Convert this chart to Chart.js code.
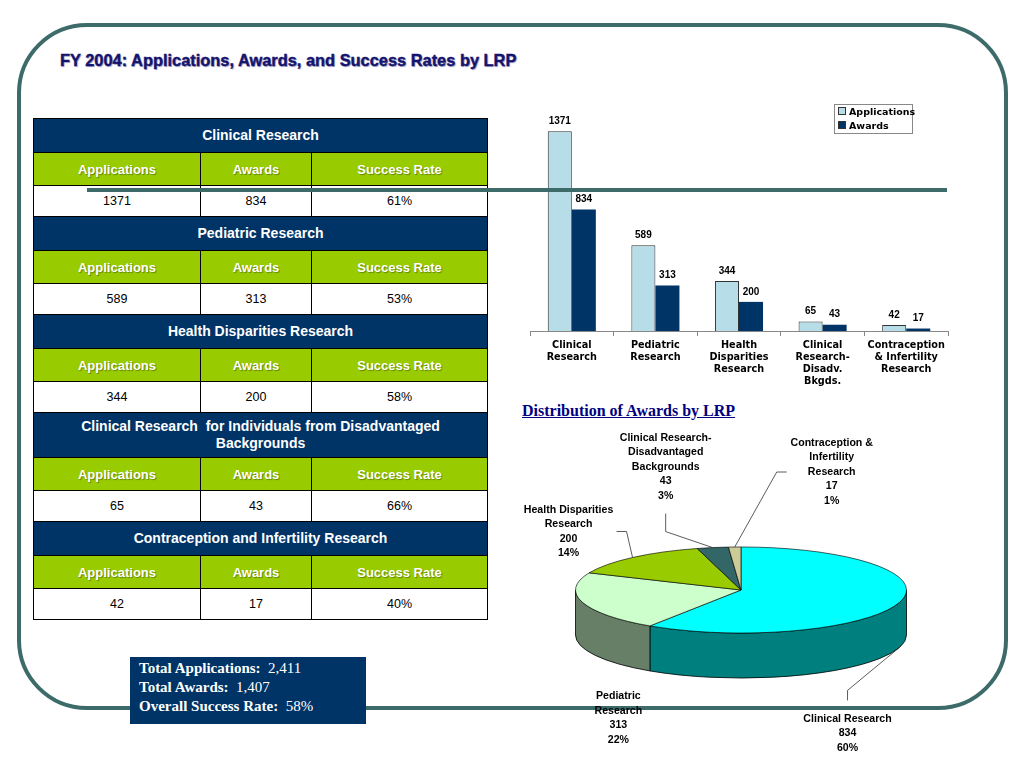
<!DOCTYPE html>
<html lang="en">
<head>
<meta charset="UTF-8">
<title>FY 2004: Applications, Awards, and Success Rates by LRP</title>
<script src="https://cdn.jsdelivr.net/npm/chart.js"></script>
<style>
    body { margin: 0; width: 1024px; height: 768px; position: relative; background: #fff; overflow: hidden;
           font-family: "Liberation Sans", Arial, sans-serif; }
    .frame { position: absolute; left: 17px; top: 23px; width: 991px; height: 687px; box-sizing: border-box;
             border: 4px solid #3d6b69; border-radius: 70px; }
    .rule { position: absolute; left: 87px; top: 188px; width: 860px; height: 4px; background: #3d6b69; z-index: 10; }
    .title { position: absolute; left: 60px; top: 51px; font-size: 16.4px; font-weight: bold; color: #14146e;
             -webkit-text-stroke: 0.4px #14146e; text-shadow: 1px 1px 1px #a0a0c0; white-space: nowrap; }
    table.lrp { position: absolute; left: 33px; top: 118px; width: 454px; border-collapse: collapse; table-layout: fixed; }
    table.lrp td { border: 1px solid #000; text-align: center; padding: 0; }
    tr.head td { background: #003366; color: #fff; font-weight: bold; font-size: 14px; height: 33px; line-height: 17px; }
    tr.head.tall td { height: 44px; padding: 0 36px; }
    tr.sub td { background: #99cc00; color: #fff; font-weight: bold; font-size: 13px; height: 32px;
                text-shadow: 1px 1px 1px rgba(0,0,0,0.35); }
    tr.val td { background: #fff; color: #000; font-size: 12.5px; height: 30px; }
    .bars { position: absolute; left: 510px; top: 90px; width: 450px; height: 305px; }
    .legend { position: absolute; left: 834px; top: 104px; width: 77px; height: 28px; border: 1px solid #888;
              background: #fff; font-size: 10px; font-weight: bold; z-index: 5; font-family: "DejaVu Sans", sans-serif; }
    .legend div { height: 14px; line-height: 14px; padding-left: 3px; white-space: nowrap; font-size: 9.5px; }
    .legend span { display: inline-block; width: 6px; height: 6px; margin-right: 3px; border: 1px solid #333; vertical-align: 0; }
    .pietitle { position: absolute; left: 522px; top: 402px; font-family: "Liberation Serif", "Times New Roman", serif;
                font-size: 16px; font-weight: bold; color: #000080; text-decoration: underline; white-space: nowrap; }
    .pie { position: absolute; left: 500px; top: 400px; width: 500px; height: 368px; }
    .totals { position: absolute; left: 130px; top: 657px; width: 236px; height: 67px; background: #003366; color: #fff;
              font-family: "Liberation Serif", "Times New Roman", serif; font-size: 15px; box-sizing: border-box;
              padding: 2px 0 0 9px; line-height: 19px; z-index: 12; }
    .totals b { font-weight: bold; }
</style>
</head>
<body>

<div class="frame"></div>
<div class="title">FY 2004: Applications, Awards, and Success Rates by LRP</div>

<table class="lrp" id="lrpTable">
    <colgroup><col style="width:167px"><col style="width:111px"><col style="width:176px"></colgroup>
    <tbody></tbody>
</table>

<div class="bars"><canvas id="barChart"></canvas></div>
<div class="legend">
    <div><span style="background:#b7dde8"></span>Applications</div>
    <div><span style="background:#003366"></span>Awards</div>
</div>

<div class="pietitle">Distribution of Awards by LRP</div>
<div class="pie"><canvas id="pieChart"></canvas></div>

<div class="rule"></div>

<div class="totals">
    <div><b>Total Applications:</b>&nbsp; 2,411</div>
    <div><b>Total Awards:</b>&nbsp; 1,407</div>
    <div><b>Overall Success Rate:</b>&nbsp; 58%</div>
</div>

<script>
    // Daten
    const programNames = ['Clinical Research', 'Pediatric Research', 'Health Disparities Research',
        'Clinical Research&nbsp; for Individuals from Disadvantaged Backgrounds', 'Contraception and Infertility Research'];
    const barLabels = [['Clinical', 'Research'], ['Pediatric', 'Research'], ['Health', 'Disparities', 'Research'],
        ['Clinical', 'Research-', 'Disadv.', 'Bkgds.'], ['Contraception', '& Infertility', 'Research']];
    const pieNames = [['Clinical Research'], ['Pediatric', 'Research'], ['Health Disparities', 'Research'],
        ['Clinical Research-', 'Disadvantaged', 'Backgrounds'], ['Contraception &', 'Infertility', 'Research']];
    const applications = [1371, 589, 344, 65, 42];
    const awards = [834, 313, 200, 43, 17];
    const successRates = ['61%', '53%', '58%', '66%', '40%'];
    const awardShares = ['60%', '22%', '14%', '3%', '1%'];

    const pieColors = ['#00ffff', '#ccffcc', '#99cc00', '#336666', '#cccc99'];

    // Tabelle links aufbauen
    const tbody = document.querySelector('#lrpTable tbody');
    programNames.forEach((name, i) => {
        const tall = name.length > 45 ? ' tall' : '';
        tbody.insertAdjacentHTML('beforeend',
            '<tr class="head' + tall + '"><td colspan="3">' + name + '</td></tr>' +
            '<tr class="sub"><td>Applications</td><td>Awards</td><td>Success Rate</td></tr>' +
            '<tr class="val"><td>' + applications[i] + '</td><td>' + awards[i] + '</td><td>' + successRates[i] + '</td></tr>');
    });

    // Werte ueber den Balken
    const barValues = {
        id: 'barValues',
        afterDatasetsDraw(chart) {
            const ctx = chart.ctx;
            ctx.save();
            ctx.font = 'bold 10px "Liberation Sans", Arial, sans-serif';
            ctx.fillStyle = '#000';
            ctx.textAlign = 'center';
            ctx.textBaseline = 'bottom';
            chart.data.datasets.forEach((ds, di) => {
                chart.getDatasetMeta(di).data.forEach((bar, i) => {
                    ctx.fillText(ds.data[i], bar.x, bar.y - 5);
                });
            });
            ctx.restore();
        }
    };

    new Chart(document.getElementById('barChart'), {
        type: 'bar',
        data: {
            labels: barLabels,
            datasets: [{
                label: 'Applications',
                data: applications,
                backgroundColor: '#b7dde8',
                borderColor: '#333',
                borderWidth: 1,
                barPercentage: 1,
                categoryPercentage: 0.575
            }, {
                label: 'Awards',
                data: awards,
                backgroundColor: '#003366',
                borderColor: '#003366',
                borderWidth: 0,
                barPercentage: 1,
                categoryPercentage: 0.575
            }]
        },
        options: {
            responsive: true,
            maintainAspectRatio: false,
            animation: false,
            events: [],
            layout: { padding: { left: 20, right: 12, top: 8, bottom: 0 } },
            plugins: { legend: { display: false }, tooltip: { enabled: false } },
            scales: {
                y: { display: false, min: 0, max: 1600 },
                x: {
                    grid: { drawOnChartArea: false, tickLength: 5, color: '#888' },
                    border: { display: true, color: '#888' },
                    ticks: {
                        color: '#000',
                        padding: 3,
                        maxRotation: 0,
                        autoSkip: false,
                        font: { family: '"DejaVu Sans", sans-serif', size: 9.7, weight: 'bold', lineHeight: 1.24 }
                    },
                    afterFit(scale) { scale.height = 64; }
                }
            }
        },
        plugins: [barValues]
    });

    // Torte mit 3D-Effekt: Ellipse + Seitenwand
    const TILT = 0.26;
    const DEPTH = 45;

    function darker(hex) {
        const n = parseInt(hex.slice(1), 16);
        const r = (n >> 16) >> 1, g = ((n >> 8) & 255) >> 1, b = (n & 255) >> 1;
        return 'rgb(' + r + ',' + g + ',' + b + ')';
    }

    // Lage der Beschriftungen relativ zum Ankerpunkt am Rand
    const labelLayout = [
        { elbow: [-52, 43], end: [-52, 53], text: [-52, 86] },
        { elbow: null, end: null, text: [36, 71] },
        { elbow: [-6, -26], end: [-16, -26], text: [-64, -26] },
        { elbow: [-47, -16], end: [-47, -34], text: [-47, -81] },
        { elbow: [42, -75], end: [52, -75], text: [97, -75] }
    ];

    const pie3d = {
        id: 'pie3d',
        beforeDatasetsDraw(chart) {
            const ctx = chart.ctx;
            const arcs = chart.getDatasetMeta(0).data;
            const cx = arcs[0].x, cy = arcs[0].y, r = arcs[0].outerRadius;
            ctx.save();
            ctx.lineWidth = 0.8;
            ctx.strokeStyle = '#000';
            arcs.forEach((arc, i) => {
                const a1 = Math.max(arc.startAngle, 0);
                const a2 = Math.min(arc.endAngle, Math.PI);
                if (a1 >= a2) return;
                ctx.beginPath();
                ctx.ellipse(cx, cy, r, r * TILT, 0, a1, a2, false);
                ctx.ellipse(cx, cy + DEPTH, r, r * TILT, 0, a2, a1, true);
                ctx.closePath();
                ctx.fillStyle = darker(pieColors[i]);
                ctx.fill();
                ctx.stroke();
            });
            ctx.restore();
            // Oberseite flach drücken
            ctx.save();
            ctx.translate(cx, cy);
            ctx.scale(1, TILT);
            ctx.translate(-cx, -cy);
        },
        afterDatasetsDraw(chart) {
            chart.ctx.restore();
        },
        afterDraw(chart) {
            const ctx = chart.ctx;
            const arcs = chart.getDatasetMeta(0).data;
            const cx = arcs[0].x, cy = arcs[0].y, r = arcs[0].outerRadius;
            ctx.save();
            ctx.font = 'bold 10.6px "Liberation Sans", Arial, sans-serif';
            ctx.textAlign = 'center';
            ctx.textBaseline = 'middle';
            ctx.fillStyle = '#000';
            ctx.strokeStyle = '#333';
            ctx.lineWidth = 0.8;
            arcs.forEach((arc, i) => {
                const mid = (arc.startAngle + arc.endAngle) / 2;
                const ax = cx + r * Math.cos(mid);
                const ay = cy + r * TILT * Math.sin(mid) + (Math.sin(mid) > 0 ? DEPTH : 0);
                const lay = labelLayout[i];
                if (lay.elbow) {
                    ctx.beginPath();
                    ctx.moveTo(ax, ay);
                    ctx.lineTo(ax + lay.elbow[0], ay + lay.elbow[1]);
                    ctx.lineTo(ax + lay.end[0], ay + lay.end[1]);
                    ctx.stroke();
                }
                const lines = pieNames[i].concat([String(awards[i]), awardShares[i]]);
                const lh = 14.5;
                const tx = ax + lay.text[0];
                const ty = ay + lay.text[1] - (lines.length - 1) * lh / 2;
                lines.forEach((t, k) => ctx.fillText(t, tx, ty + k * lh));
            });
            ctx.restore();
        }
    };

    new Chart(document.getElementById('pieChart'), {
        type: 'pie',
        data: {
            labels: pieNames.map(n => n.join(' ')),
            datasets: [{
                data: awards,
                backgroundColor: pieColors,
                borderColor: '#000',
                borderWidth: 1,
                hoverOffset: 0
            }]
        },
        options: {
            responsive: true,
            maintainAspectRatio: false,
            animation: false,
            events: [],
            layout: { padding: { left: 75, right: 93, top: 24, bottom: 12 } },
            plugins: { legend: { display: false }, tooltip: { enabled: false } }
        },
        plugins: [pie3d]
    });
</script>

</body>
</html>
